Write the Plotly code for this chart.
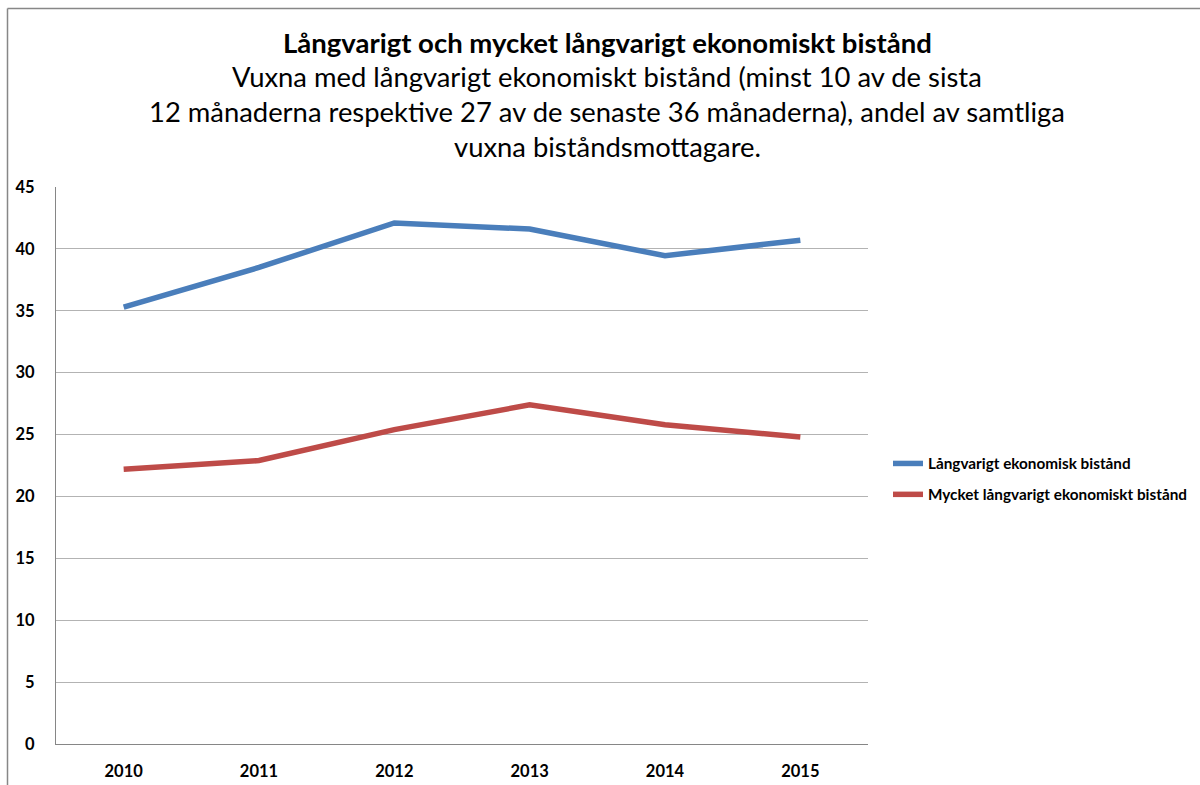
import plotly.graph_objects as go

years = ["2010", "2011", "2012", "2013", "2014", "2015"]
langvarigt = [35.3, 38.5, 42.1, 41.6, 39.45, 40.7]
mycket_langvarigt = [22.2, 22.9, 25.4, 27.4, 25.8, 24.8]
series_names = ["Långvarigt ekonomisk bistånd", "Mycket långvarigt ekonomiskt bistånd"]
y_ticks = [0, 5, 10, 15, 20, 25, 30, 35, 40, 45]

FONT = "Lato, 'Open Sans', Arial, sans-serif"

fig = go.Figure()
fig.add_trace(go.Scatter(x=years, y=langvarigt, mode="lines", name=series_names[0],
                         legendgroup="a", line=dict(color="#4a7ebb", width=5.5)))
fig.add_trace(go.Scatter(x=years, y=mycket_langvarigt, mode="lines", name=series_names[1],
                         legendgroup="b", line=dict(color="#be4b48", width=5.5)))

L, R, T, B = 56, 868, 187, 744
W, H = 1200, 785

fig.update_layout(
    width=W, height=H, autosize=False,
    margin=dict(l=L, r=W - R, t=T, b=H - B, pad=0, autoexpand=False),
    paper_bgcolor="white", plot_bgcolor="white",
    font=dict(family=FONT, color="black"),
    showlegend=True,
    legend=dict(xref="container", yref="container", x=888 / W, xanchor="left",
                y=1 - 447 / H, yanchor="top",
                font=dict(size=15.3, family=FONT, weight="bold"),
                tracegroupgap=8, itemwidth=30, bgcolor="rgba(0,0,0,0)"),
    xaxis=dict(type="category", showgrid=False, showline=True, linecolor="#868686", linewidth=1,
               ticks="", tickfont=dict(size=16.5, family=FONT, weight="bold"), automargin=False,
               ticklabelstandoff=12, range=[-0.5, 5.5], fixedrange=True),
    yaxis=dict(range=[0, 45], tickvals=y_ticks, showgrid=True, gridcolor="#b3b3b3", gridwidth=1.3,
               showline=True, linecolor="#868686", linewidth=1, ticks="", zeroline=False,
               automargin=False,
               tickfont=dict(size=16.5, family=FONT, weight="bold"), ticklabelstandoff=17),
)

title_lines = [
    ("<b>Långvarigt och mycket långvarigt ekonomiskt bistånd</b>", 42, 27.5),
    ("Vuxna med långvarigt ekonomiskt bistånd (minst 10 av de sista", 77, 27.4),
    ("12 månaderna respektive 27 av de senaste 36 månaderna), andel av samtliga", 111.5, 27.4),
    ("vuxna biståndsmottagare.", 146.5, 27.4),
]
for txt, yc, fs in title_lines:
    fig.add_annotation(text=txt, xref="paper", yref="paper",
                       x=(607 - L) / (R - L), y=(B - yc) / (B - T),
                       xanchor="center", yanchor="middle", showarrow=False,
                       font=dict(size=fs, family=FONT, color="black"))

fig.add_shape(type="line", xref="paper", yref="paper",
              x0=(7.5 - L) / (R - L), x1=(1200 - L) / (R - L),
              y0=(B - 8.5) / (B - T), y1=(B - 8.5) / (B - T),
              line=dict(color="#878787", width=1.5))
fig.add_shape(type="line", xref="paper", yref="paper",
              x0=(7.5 - L) / (R - L), x1=(7.5 - L) / (R - L),
              y0=(B - 8.5) / (B - T), y1=(B - 785) / (B - T),
              line=dict(color="#878787", width=1.5))

fig.write_html("out.html",
               config={"responsive": False, "displayModeBar": False},
               post_script="document.body.style.margin='0';document.body.style.overflow='hidden';")
